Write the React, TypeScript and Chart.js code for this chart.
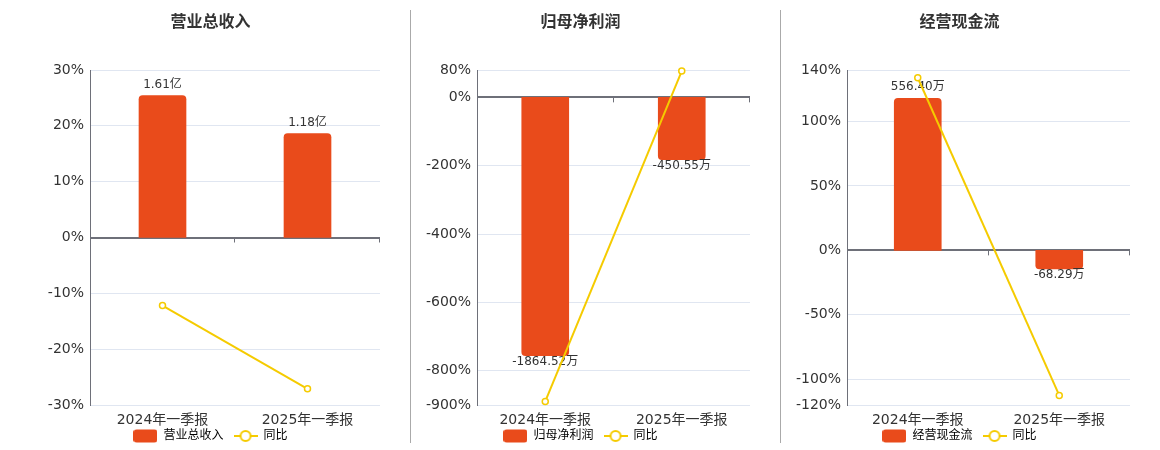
import { useEffect, useRef } from "react";
import { Chart, registerables, Plugin } from "chart.js";

Chart.register(...registerables);

const FONT = "'DejaVu Sans', 'Noto Sans CJK SC', sans-serif";
const RED = "#E94B1B";
const YELLOW = "#F5CB00";
Chart.defaults.font.family = FONT;

// 공통 카테고리
const categories = ["2024年一季报", "2025年一季报"];
const yoyName = "同比";

// 营业总收入 (亿)
const revenueValues = [1.61, 1.18];
const revenueLabels = ["1.61亿", "1.18亿"];
const revenueYoY = [-12.2, -27.1];
const revenueTicks = [-30, -20, -10, 0, 10, 20, 30];
const revenueBarRange = [-1.9, 1.9];

// 归母净利润 (万)
const profitValues = [-1864.52, -450.55];
const profitLabels = ["-1864.52万", "-450.55万"];
const profitYoY = [-889.7, 77];
const profitTicks = [-900, -800, -600, -400, -200, 0, 80];
const profitBarRange = [-2220, 197];

// 经营现金流 (万)
const cashValues = [556.4, -68.29];
const cashLabels = ["556.40万", "-68.29万"];
const cashYoY = [134, -112.6];
const cashTicks = [-120, -100, -50, 0, 50, 100, 140];
const cashBarRange = [-566, 660];

function makeIcon(kind: "bar" | "line"): HTMLCanvasElement {
  const c = document.createElement("canvas");
  c.width = 24;
  c.height = 14;
  const ctx = c.getContext("2d")!;
  if (kind === "bar") {
    ctx.fillStyle = RED;
    ctx.beginPath();
    ctx.roundRect(0, 0.5, 24, 13, 3);
    ctx.fill();
  } else {
    ctx.strokeStyle = YELLOW;
    ctx.lineWidth = 2;
    ctx.beginPath();
    ctx.moveTo(0, 7);
    ctx.lineTo(24, 7);
    ctx.stroke();
    ctx.fillStyle = "#fff";
    ctx.beginPath();
    ctx.arc(12, 7, 5, 0, Math.PI * 2);
    ctx.fill();
    ctx.stroke();
  }
  return c;
}

// 막대 위/아래 값 라벨 + 0축 카테고리 경계 눈금
const barExtras: Plugin = {
  id: "barExtras",
  afterLayout(chart) {
    // x축 높이를 줄였으니 라벨이 잘리지 않게 clip 영역만 넓힘
    chart.scales.x.bottom = chart.height;
  },
  afterDatasetDraw(chart, args: any) {
    if (args.index !== 0) return;
    const labels: string[] = (chart.options.plugins as any).barExtras.labels;
    const ctx = chart.ctx;
    ctx.save();
    ctx.font = `12px ${FONT}`;
    ctx.fillStyle = "#333";
    ctx.textAlign = "center";
    ctx.textBaseline = "middle";
    args.meta.data.forEach((el: any, i: number) => {
      const v = chart.data.datasets[0].data[i] as number;
      ctx.fillText(labels[i], el.x, v >= 0 ? el.y - 11 : el.y + 6);
    });
    ctx.restore();
  },
  afterDraw(chart) {
    const x = chart.scales.x;
    const y = chart.scales.y;
    const y0 = y.getPixelForValue(0);
    const half = (x.getPixelForValue(1) - x.getPixelForValue(0)) / 2;
    const ctx = chart.ctx;
    ctx.save();
    ctx.strokeStyle = "#6E7079";
    ctx.lineWidth = 1;
    for (let i = 0; i < categories.length; i++) {
      const px = Math.round(x.getPixelForValue(i) + half) - 0.5;
      ctx.beginPath();
      ctx.moveTo(px, y0);
      ctx.lineTo(px, y0 + 5);
      ctx.stroke();
    }
    ctx.restore();
  },
};

interface PanelProps {
  left: number;
  width: number;
  axisWidth: number;
  title: string;
  values: number[];
  labels: string[];
  yoy: number[];
  ticks: number[];
  barRange: number[];
}

function Panel({ left, width, axisWidth, title, values, labels, yoy, ticks, barRange }: PanelProps) {
  const canvasRef = useRef<HTMLCanvasElement>(null);

  useEffect(() => {
    if (!canvasRef.current) return;
    const barIcon = makeIcon("bar");
    const lineIcon = makeIcon("line");
    const chart = new Chart(canvasRef.current, {
      type: "bar",
      data: {
        labels: categories,
        datasets: [
          { type: "bar", label: title, data: values, backgroundColor: RED, barThickness: 47, borderRadius: 4, yAxisID: "yBar", order: 2 },
          { type: "line", label: yoyName, data: yoy, borderColor: YELLOW, borderWidth: 2, pointRadius: 3, pointBackgroundColor: "#fff", pointBorderColor: YELLOW, pointBorderWidth: 1.5, yAxisID: "y", order: 1, clip: false } as any,
        ],
      },
      options: {
        responsive: true,
        maintainAspectRatio: false,
        animation: false,
        layout: { padding: { right: 1 }, autoPadding: false },
        plugins: {
          title: { display: true, text: title, color: "#333", font: { size: 16, weight: "bold" }, padding: { top: 13, bottom: 37.8 } },
          legend: {
            position: "bottom",
            labels: {
              usePointStyle: true,
              pointStyleWidth: 24,
              boxHeight: 12,
              padding: 10,
              color: "#555",
              font: { size: 12 },
              generateLabels: () => [
                { text: title, pointStyle: barIcon, fillStyle: RED, strokeStyle: RED, lineWidth: 0, hidden: false, datasetIndex: 0 },
                { text: yoyName, pointStyle: lineIcon, fillStyle: YELLOW, strokeStyle: YELLOW, lineWidth: 0, hidden: false, datasetIndex: 1 },
              ] as any,
            },
          },
          tooltip: { enabled: false },
          barExtras: { labels },
        } as any,
        scales: {
          x: {
            grid: { display: false, drawTicks: false },
            border: { display: false },
            ticks: { color: "#333", font: { size: 14 }, padding: 7 },
            afterFit: (s: any) => { s.height = 15; s.paddingLeft = 0; s.paddingRight = 0; },
          },
          y: {
            position: "left",
            min: ticks[0],
            max: ticks[ticks.length - 1],
            afterBuildTicks: (s) => { s.ticks = ticks.map((v) => ({ value: v })); },
            afterFit: (s) => { s.width = axisWidth; },
            ticks: { color: "#333", font: { size: 14 }, padding: 6, callback: (v) => v + "%" },
            grid: {
              drawTicks: false,
              color: (c) => (c.tick && c.tick.value === 0 ? "#6E7079" : "#E0E6F1"),
              lineWidth: (c) => (c.tick && c.tick.value === 0 ? 2 : 1),
            },
            border: { display: true, color: "#6E7079", width: 1 },
          },
          yBar: { display: false, min: barRange[0], max: barRange[1] },
        },
      },
      plugins: [barExtras],
    });
    return () => { chart.destroy(); };
  }, []);

  return (
    <div style={{ position: "absolute", left, top: 0, width, height: 452 }}>
      <canvas ref={canvasRef} />
    </div>
  );
}

export default function App() {
  return (
    <div style={{ position: "absolute", left: 0, top: 0, width: 1160, height: 450, overflow: "hidden", background: "#fff" }}>
      <Panel left={41} width={340} axisWidth={49} title="营业总收入" values={revenueValues} labels={revenueLabels} yoy={revenueYoY} ticks={revenueTicks} barRange={revenueBarRange} />
      <div style={{ position: "absolute", left: 410, top: 10, width: 1, height: 433, background: "#aaa" }} />
      <Panel left={411} width={340} axisWidth={66} title="归母净利润" values={profitValues} labels={profitLabels} yoy={profitYoY} ticks={profitTicks} barRange={profitBarRange} />
      <div style={{ position: "absolute", left: 780, top: 10, width: 1, height: 433, background: "#aaa" }} />
      <Panel left={789} width={342} axisWidth={58} title="经营现金流" values={cashValues} labels={cashLabels} yoy={cashYoY} ticks={cashTicks} barRange={cashBarRange} />
    </div>
  );
}
